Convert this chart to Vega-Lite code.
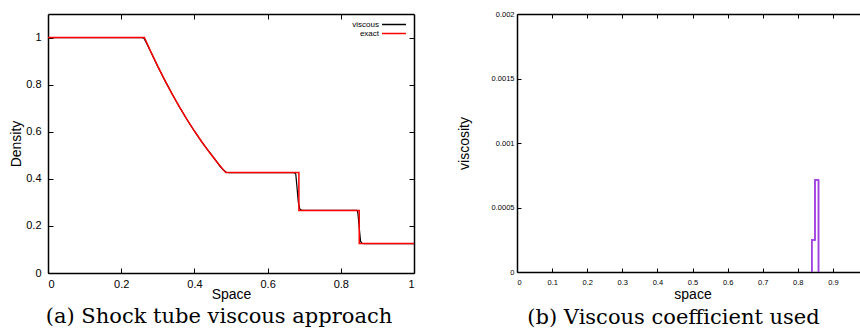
{
  "$schema": "https://vega.github.io/schema/vega-lite/v6.json",
  "padding": {"left": 9, "top": 10, "right": 0, "bottom": 0},
  "background": "white",
  "spacing": 40,
  "resolve": {"scale": {"color": "independent"}, "legend": {"color": "independent"}},
  "config": {
    "view": {"stroke": null},
    "font": "Liberation Sans",
    "axis": {
      "domainColor": "#000", "domainWidth": 1.5,
      "tickColor": "#000", "tickWidth": 1, "tickSize": -5,
      "labelFont": "Liberation Sans", "labelColor": "#000",
      "titleFont": "Liberation Sans", "titleFontWeight": "normal", "titleColor": "#000",
      "grid": false, "zindex": 1
    }
  },
  "datasets": {
    "viscous": [
      {"i": 0, "x": 0, "y": 1}, {"i": 1, "x": 0.255, "y": 1}, {"i": 2, "x": 0.262, "y": 0.997},
      {"i": 3, "x": 0.27, "y": 0.974}, {"i": 4, "x": 0.28, "y": 0.942}, {"i": 5, "x": 0.30, "y": 0.877},
      {"i": 6, "x": 0.32, "y": 0.816}, {"i": 7, "x": 0.34, "y": 0.758}, {"i": 8, "x": 0.36, "y": 0.703},
      {"i": 9, "x": 0.38, "y": 0.651}, {"i": 10, "x": 0.40, "y": 0.603}, {"i": 11, "x": 0.42, "y": 0.557},
      {"i": 12, "x": 0.44, "y": 0.515}, {"i": 13, "x": 0.46, "y": 0.475}, {"i": 14, "x": 0.47, "y": 0.453},
      {"i": 15, "x": 0.48, "y": 0.436}, {"i": 16, "x": 0.487, "y": 0.428}, {"i": 17, "x": 0.495, "y": 0.4265},
      {"i": 18, "x": 0.672, "y": 0.4263}, {"i": 19, "x": 0.677, "y": 0.42}, {"i": 20, "x": 0.680, "y": 0.37},
      {"i": 21, "x": 0.684, "y": 0.30}, {"i": 22, "x": 0.688, "y": 0.272}, {"i": 23, "x": 0.694, "y": 0.2656},
      {"i": 24, "x": 0.845, "y": 0.2656}, {"i": 25, "x": 0.847, "y": 0.25}, {"i": 26, "x": 0.8505, "y": 0.19},
      {"i": 27, "x": 0.854, "y": 0.135}, {"i": 28, "x": 0.858, "y": 0.126}, {"i": 29, "x": 0.865, "y": 0.125},
      {"i": 30, "x": 1, "y": 0.125}
    ],
    "exact": [
      {"i": 0, "x": 0, "y": 1}, {"i": 1, "x": 0.2634, "y": 1}, {"i": 2, "x": 0.28, "y": 0.94275},
      {"i": 3, "x": 0.30, "y": 0.87745}, {"i": 4, "x": 0.32, "y": 0.81583}, {"i": 5, "x": 0.34, "y": 0.75771},
      {"i": 6, "x": 0.36, "y": 0.70295}, {"i": 7, "x": 0.38, "y": 0.65139}, {"i": 8, "x": 0.40, "y": 0.60292},
      {"i": 9, "x": 0.42, "y": 0.55738}, {"i": 10, "x": 0.44, "y": 0.51464}, {"i": 11, "x": 0.46, "y": 0.47452},
      {"i": 12, "x": 0.48, "y": 0.43698}, {"i": 13, "x": 0.4859, "y": 0.42632}, {"i": 14, "x": 0.6855, "y": 0.42632},
      {"i": 15, "x": 0.6855, "y": 0.26557}, {"i": 16, "x": 0.8504, "y": 0.26557}, {"i": 17, "x": 0.8504, "y": 0.125},
      {"i": 18, "x": 1, "y": 0.125}
    ],
    "visc": [
      {"i": 0, "x": 0.84, "v": 0}, {"i": 1, "x": 0.84, "v": 0.000248}, {"i": 2, "x": 0.849, "v": 0.000713}, {"i": 3, "x": 0.859, "v": 0}
    ]
  },
  "hconcat": [
    {
      "width": 366, "height": 259,
      "title": {"text": "(a) Shock tube viscous approach", "orient": "bottom", "anchor": "middle", "font": "DejaVu Serif", "fontSize": 21, "fontWeight": "normal", "color": "#000", "offset": 5, "dx": -12},
      "layer": [
        {
          "data": {"name": "viscous"},
          "mark": {"type": "line", "strokeWidth": 1.2},
          "encoding": {
            "x": {"field": "x", "type": "quantitative", "scale": {"domain": [0, 1], "nice": false},
                  "axis": {"orient": "bottom", "values": [0, 0.2, 0.4, 0.6, 0.8, 1], "format": "~g", "title": "Space", "labelFontSize": 11, "titleFontSize": 14, "labelPadding": 10, "titlePadding": -2}},
            "y": {"field": "y", "type": "quantitative", "scale": {"domain": [0, 1.1], "nice": false, "zero": false},
                  "axis": {"orient": "left", "values": [0, 0.2, 0.4, 0.6, 0.8, 1], "format": "~g", "title": "Density", "labelFontSize": 11, "titleFontSize": 14, "labelPadding": 12, "titlePadding": 2}},
            "color": {"datum": "viscous", "type": "nominal",
                      "scale": {"domain": ["viscous", "exact"], "range": ["#000000", "#ff0000"]},
                      "legend": {"orient": "none", "legendX": 341, "legendY": 5.5, "title": null, "symbolType": "M-3,0H3", "symbolSize": 64, "symbolStrokeWidth": 1.5, "labelFontSize": 8, "labelColor": "#000", "labelAlign": "right", "labelOffset": -20, "rowPadding": 0, "padding": 0}},
            "order": {"field": "i", "type": "quantitative"}
          }
        },
        {
          "data": {"name": "exact"},
          "mark": {"type": "line", "strokeWidth": 1.5},
          "encoding": {
            "x": {"field": "x", "type": "quantitative",
                  "axis": {"orient": "top", "values": [0.2, 0.4, 0.6, 0.8], "labels": false, "title": null}},
            "y": {"field": "y", "type": "quantitative",
                  "axis": {"orient": "right", "values": [0.2, 0.4, 0.6, 0.8, 1], "labels": false, "title": null}},
            "color": {"datum": "exact", "type": "nominal"},
            "order": {"field": "i", "type": "quantitative"}
          }
        }
      ],
      "resolve": {"axis": {"x": "independent", "y": "independent"}}
    },
    {
      "width": 351, "height": 258,
      "title": {"text": "(b) Viscous coefficient used", "orient": "bottom", "anchor": "middle", "font": "DejaVu Serif", "fontSize": 21, "fontWeight": "normal", "color": "#000", "offset": 5, "dx": -19},
      "data": {"name": "visc"},
      "layer": [
        {
          "mark": {"type": "line", "interpolate": "step-after", "color": "#a040e0", "strokeWidth": 1.5},
          "encoding": {
            "x": {"field": "x", "type": "quantitative", "scale": {"domain": [0, 1], "nice": false},
                  "axis": {"orient": "bottom", "values": [0, 0.1, 0.2, 0.3, 0.4, 0.5, 0.6, 0.7, 0.8, 0.9], "format": "~g", "title": "space", "labelFontSize": 7.5, "titleFontSize": 14, "labelPadding": 10, "titlePadding": 2, "tickSize": -4}},
            "y": {"field": "v", "type": "quantitative", "scale": {"domain": [0, 0.002], "nice": false},
                  "axis": {"orient": "left", "values": [0, 0.0005, 0.001, 0.0015, 0.002], "format": "~g", "title": "viscosity", "labelFontSize": 7.5, "titleFontSize": 14, "labelPadding": 7, "titlePadding": 20, "tickSize": -4}},
            "order": {"field": "i", "type": "quantitative"}
          }
        },
        {
          "mark": {"type": "line", "interpolate": "step-after", "color": "#a040e0", "strokeWidth": 1.5},
          "encoding": {
            "x": {"field": "x", "type": "quantitative",
                  "axis": {"orient": "top", "values": [0.1, 0.2, 0.3, 0.4, 0.5, 0.6, 0.7, 0.8, 0.9], "labels": false, "title": null, "tickSize": -4}},
            "y": {"field": "v", "type": "quantitative",
                  "axis": {"orient": "right", "values": [0.0005, 0.001, 0.0015], "labels": false, "title": null, "tickSize": -4}},
            "order": {"field": "i", "type": "quantitative"}
          }
        }
      ],
      "resolve": {"axis": {"x": "independent", "y": "independent"}}
    }
  ]
}
